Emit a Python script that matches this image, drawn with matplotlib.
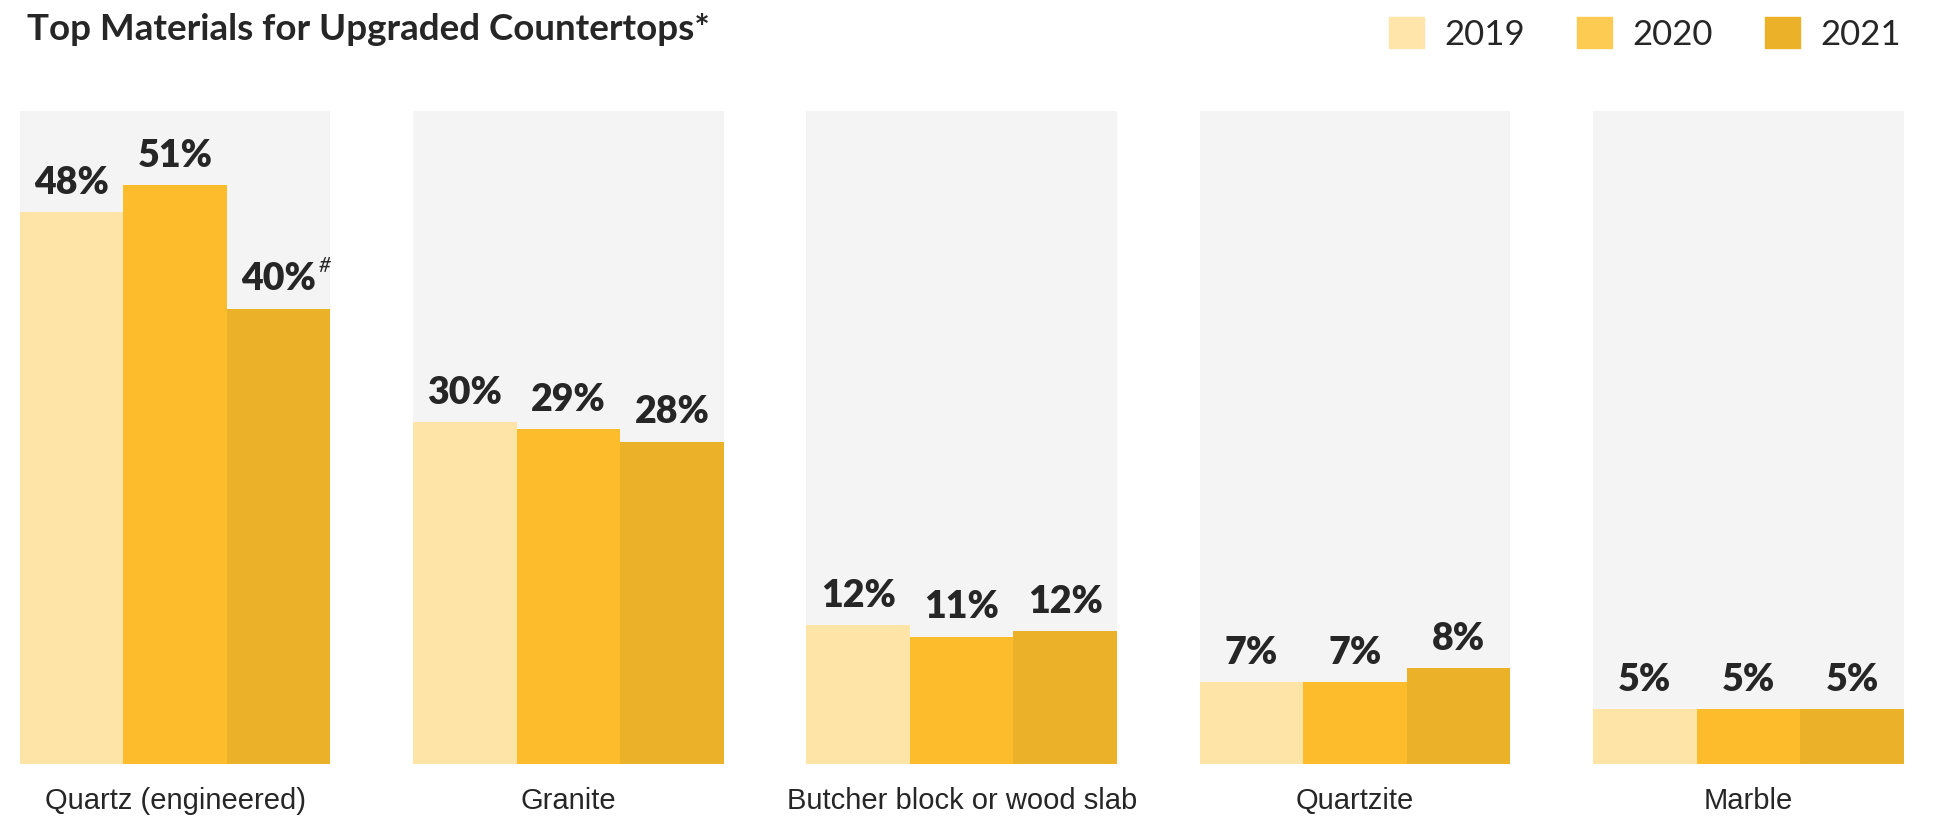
import matplotlib.pyplot as plt
from matplotlib.patches import Patch

categories = ['Quartz (engineered)', 'Granite', 'Butcher block or wood slab', 'Quartzite', 'Marble']
years = ['2019', '2020', '2021']
# bar heights (percent)
v2019 = [48.6, 30.1, 12.2, 7.2, 4.8]
v2020 = [51.0, 29.5, 11.2, 7.2, 4.8]
v2021 = [40.1, 28.4, 11.7, 8.4, 4.8]
# printed labels
l2019 = ['48%', '30%', '12%', '7%', '5%']
l2020 = ['51%', '29%', '11%', '7%', '5%']
l2021 = ['40%', '28%', '12%', '8%', '5%']

bar_colors = ['#FFE4A8', '#FDBC2B', '#EBB229']
legend_colors = ['#FFE5AA', '#FECB52', '#EBB128']
bg_color = '#F4F4F4'
text_color = '#262626'

fig = plt.figure(figsize=(19.37, 8.2), dpi=100)
ax = fig.add_axes([0.0102, 0.0674, 0.9726, 0.7956])

pitch = 3.8
ymax = 57.5
series = [v2019, v2020, v2021]
labels = [l2019, l2020, l2021]

# grey panel behind each group
ax.bar([g * pitch + 1.5 for g in range(len(categories))], [ymax] * len(categories),
       width=3, color=bg_color, zorder=0)

for i in range(3):
    xs = [g * pitch + i + 0.5 for g in range(len(categories))]
    ax.bar(xs, series[i], width=1, color=bar_colors[i], zorder=2)
    for x, h, t in zip(xs, series[i], labels[i]):
        ax.annotate(t, (x, h), xytext=(0, 14), textcoords='offset points',
                    ha='center', va='baseline', fontsize=27, fontweight='heavy',
                    family=['Lato', 'DejaVu Sans'], color=text_color, zorder=3)

# footnote mark on 2021 quartz
ax.annotate('#', (2.5, v2021[0]), xytext=(29, 27), textcoords='offset points',
            ha='left', va='baseline', fontsize=15, fontstyle='italic',
            family=['Lato', 'DejaVu Sans'], color=text_color)

ax.set_xlim(0, (len(categories) - 1) * pitch + 3)
ax.set_ylim(0, ymax)
ax.set_xticks([g * pitch + 1.5 for g in range(len(categories))])
ax.set_xticklabels(categories, fontsize=21, family=['Liberation Sans', 'DejaVu Sans'],
                   color=text_color)
ax.tick_params(axis='x', length=0, pad=16)
ax.set_yticks([])
for s in ax.spines.values():
    s.set_visible(False)

fig.text(0.014, 0.964, 'Top Materials for Upgraded Countertops*', fontsize=26.5,
         fontweight='bold', family=['Lato', 'DejaVu Sans'], color=text_color,
         ha='left', va='center')

handles = [Patch(color=c, label=y) for c, y in zip(legend_colors, years)]
fig.legend(handles=handles, loc='upper right', bbox_to_anchor=(0.996, 1.012),
           ncol=3, frameon=False, handlelength=1.0, handleheight=1.0,
           handletextpad=0.6, columnspacing=1.5, borderpad=0.3,
           prop={'family': ['Lato', 'DejaVu Sans'], 'weight': 'normal', 'size': 25},
           labelcolor=text_color)

fig.savefig('out.png', dpi=100)
